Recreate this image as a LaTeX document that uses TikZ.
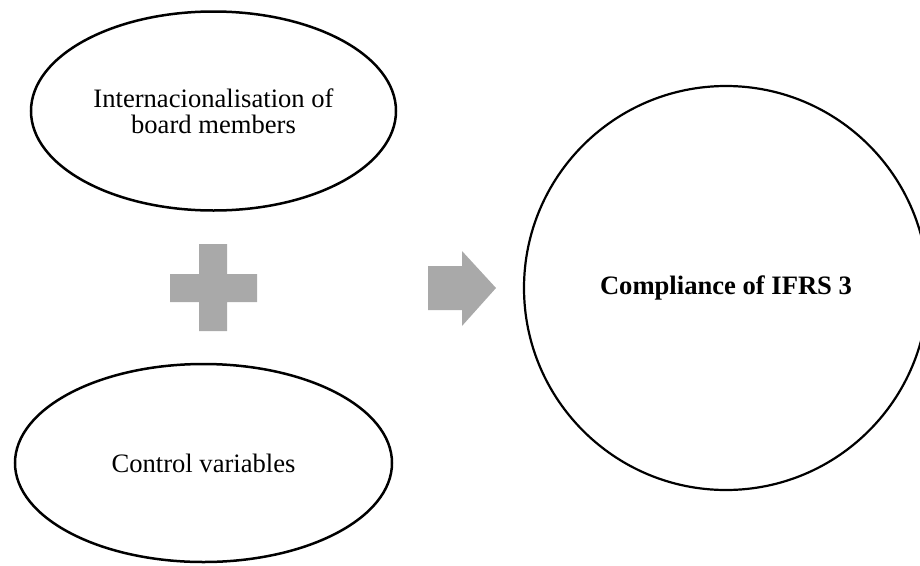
\documentclass[tikz,border=0pt]{standalone}
\usepackage{fontspec}
\setmainfont{Liberation Serif}
\usetikzlibrary{shapes.geometric}
\definecolor{signgray}{RGB}{169,169,169}

\begin{document}
\begin{tikzpicture}[x=1pt,y=-1pt]
\tikzset{oval/.style={ellipse,draw,line width=2.5pt,align=center,font=\fontsize{26.6}{25.7}\selectfont},
         signfill/.style={fill=signgray,draw=none}}
\useasboundingbox (0,0) rectangle (920,565);
\clip (0,0) rectangle (920,565);

\node[oval,minimum width=365,minimum height=199] (board) at (213.5,111) {Internacionalisation of\\board members};
\node[oval,minimum width=377,minimum height=198] (control) at (203.5,463) {Control variables};
\node[circle,draw,line width=2.2pt,minimum size=404,font=\fontsize{26.6}{25.7}\selectfont\bfseries] (ifrs) at (726,288) {Compliance of IFRS 3};

% plus sign
\fill[signfill] (199,244) -- (227,244) -- (227,274) -- (257,274) -- (257,302) -- (227,302)
  -- (227,331) -- (199,331) -- (199,302) -- (170,302) -- (170,274) -- (199,274) -- cycle;
% arrow
\fill[signfill] (428,266) -- (462,266) -- (462,251) -- (496,288) -- (462,326) -- (462,310) -- (428,310) -- cycle;
\end{tikzpicture}
\end{document}
